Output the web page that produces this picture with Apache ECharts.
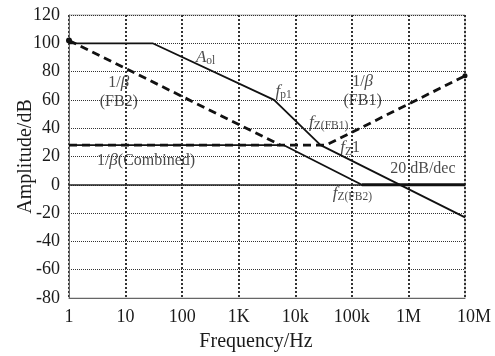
<!DOCTYPE html>
<html><head><meta charset="utf-8">
<script src="https://cdn.jsdelivr.net/npm/echarts@6/dist/echarts.min.js"></script>
<style>html,body{margin:0;padding:0;background:#fff}#c{width:495px;height:356px}</style>
</head><body><div id="c"></div>
<script>
// ---- data ----
const xTickLabels = ['1', '10', '100', '1K', '10k', '100k', '1M', '10M'];
const yMin = -80, yMax = 120, yStep = 20;

const aolFreq = [1, 30, 4200, 28000, 1e7];
const aolDb   = [100, 100, 60, 28, -23];

const fb2Freq = [1, 5500];
const fb2Db   = [102, 28];

const fb1Freq = [1, 35000, 1e7];
const fb1Db   = [28, 28, 77];

const loopFreq = [1, 6300, 150000];
const loopDb   = [28, 28, 0];

const floorFreq = [150000, 1e7];
const floorDb   = [0, 0];

const annoFreq = [260, 7.6, 6200, 155000, 39000, 93000, 1.8e6, 102000, 23];
const annoDb   = [90, 65.5, 65.6, 66, 44, 26, 11.5, -6, 17];
const annoText = [
  '{i|A}{s|ol}',
  '{t|1/}{i|β}\n{t|(FB2)}',
  '{i|f}{s|p1}',
  '{t|1/}{i|β}\n{t|(FB1)}',
  '{i|f}{s|Z(FB1)}',
  '{i|f}{s|Z}{t|1}',
  '{t|20 dB/dec}',
  '{i|f}{s|Z(FB2)}',
  '{t|1/}{i|β}{t|(Combined)}'
];

// ---- chart ----
const FONT = 'Liberation Serif';
const INK = '#1a1a1a';
const pairs = (xs, ys) => xs.map((x, i) => [x, ys[i]]);

const chart = echarts.init(document.getElementById('c'), null, {renderer: 'canvas'});
const rich = {
  t: {fontFamily: FONT, fontSize: 16, color: INK, lineHeight: 19, textBorderWidth: 0},
  i: {fontFamily: FONT, fontSize: 17, fontStyle: 'italic', color: INK, lineHeight: 19, textBorderWidth: 0},
  s: {fontFamily: FONT, fontSize: 11.5, color: INK, lineHeight: 11, verticalAlign: 'bottom', textBorderWidth: 0}
};

chart.setOption({
  animation: false,
  backgroundColor: '#fff',
  grid: {left: 69, right: 30, top: 15, bottom: 58, containLabel: false, outerBoundsMode: 'none',
         show: true, borderColor: '#b0b0b0', borderWidth: 1},
  xAxis: [{
    type: 'log', logBase: 10, min: 1, max: 1e7, splitNumber: 7,
    name: 'Frequency/Hz', nameLocation: 'middle', nameGap: 34, nameMoveOverlap: false,
    nameTextStyle: {fontFamily: FONT, fontSize: 20, color: INK, padding: [0, 22, 0, 0]},
    axisLine: {onZero: false, lineStyle: {color: '#666', width: 1}},
    axisTick: {show: false},
    axisLabel: {
      margin: 10, fontFamily: FONT, fontSize: 18, color: INK,
      formatter: v => {
        const k = Math.round(Math.log10(v));
        return k === 7 ? '{last|' + xTickLabels[k] + '}' : xTickLabels[k];
      },
      rich: {last: {fontFamily: FONT, fontSize: 18, color: INK, padding: [0, 0, 0, 18]}}
    },
    splitLine: {show: true, lineStyle: {type: [2, 2], color: '#333', width: 2}}
  }, {
    type: 'log', logBase: 10, min: 1, max: 1e7, splitNumber: 7,
    axisLine: {onZero: true, lineStyle: {color: '#222', width: 1.5}},
    axisTick: {show: false}, axisLabel: {show: false}, splitLine: {show: false}
  }],
  yAxis: {
    type: 'value', min: yMin, max: yMax, interval: yStep,
    name: 'Amplitude/dB', nameLocation: 'middle', nameGap: 33, nameMoveOverlap: false,
    nameTextStyle: {fontFamily: FONT, fontSize: 20, color: INK},
    axisLine: {show: true, lineStyle: {color: '#666', width: 1}},
    axisTick: {show: false},
    axisLabel: {margin: 9, fontFamily: FONT, fontSize: 18, color: INK},
    splitLine: {show: true, lineStyle: {type: 'dotted', color: '#333', width: 1}}
  },
  series: [
    {type: 'line', name: 'Aol', data: pairs(aolFreq, aolDb), showSymbol: false, z: 5,
     lineStyle: {color: '#111', width: 1.8}},
    {type: 'line', name: 'loop', data: pairs(loopFreq, loopDb), showSymbol: false, z: 5,
     lineStyle: {color: '#111', width: 1.8}},
    {type: 'line', name: 'floor', data: pairs(floorFreq, floorDb), showSymbol: false, z: 5,
     lineStyle: {color: '#111', width: 3}},
    {type: 'line', name: 'FB2', data: pairs(fb2Freq, fb2Db), z: 6,
     symbol: 'circle', symbolSize: (v, p) => p.dataIndex === 0 ? 6 : 0,
     itemStyle: {color: '#111'},
     lineStyle: {color: '#111', width: 2.8, type: [8, 5]}},
    {type: 'line', name: 'FB1', data: pairs(fb1Freq, fb1Db), z: 6,
     symbol: 'circle', symbolSize: (v, p) => p.dataIndex === fb1Freq.length - 1 ? 5 : 0,
     itemStyle: {color: '#111'},
     lineStyle: {color: '#111', width: 2.8, type: [8, 5]}},
    {type: 'scatter', name: 'labels', data: pairs(annoFreq, annoDb), symbolSize: 0, z: 10,
     itemStyle: {color: INK},
     label: {show: true, position: 'inside', align: 'center', verticalAlign: 'middle',
             color: INK, textBorderWidth: 0,
             formatter: p => annoText[p.dataIndex], rich: rich}}
  ]
});
</script></body></html>
